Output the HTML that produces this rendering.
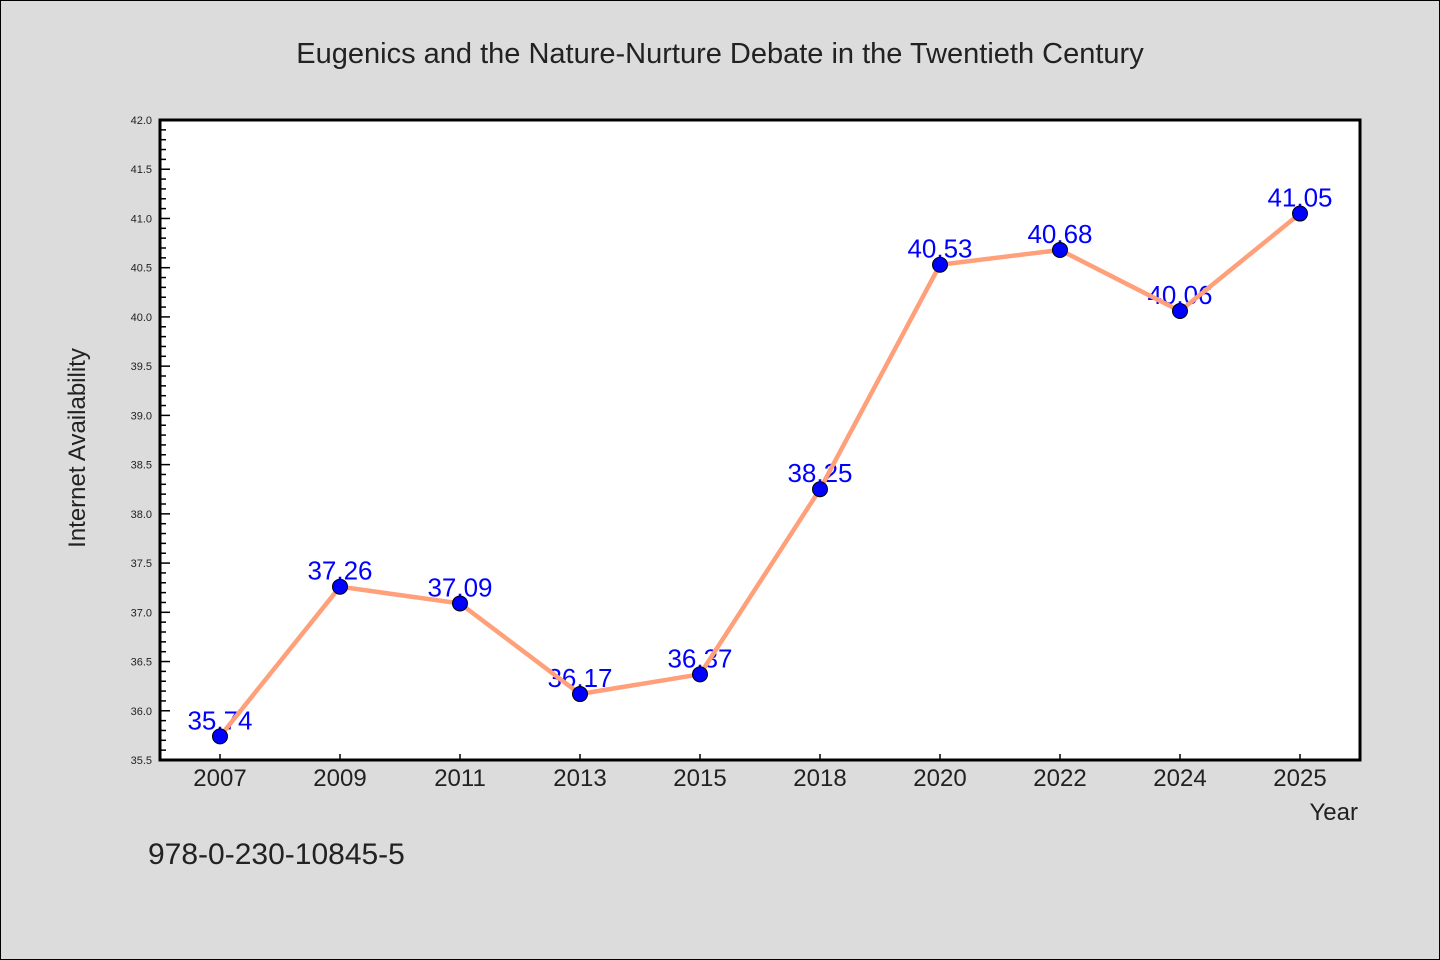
<!DOCTYPE html>
<html><head><meta charset="utf-8"><style>
body{margin:0;background:#dcdcdc;}
svg{display:block;font-family:"WenQuanYi Zen Hei","Liberation Sans",sans-serif;}
</style></head><body>
<svg id="c" width="1440" height="960">
<rect x="0.5" y="0.5" width="1439" height="959" fill="#dcdcdc" stroke="#000"/>
<text x="720" y="63" text-anchor="middle" font-size="29" fill="#222">Eugenics and the Nature-Nurture Debate in the Twentieth Century</text>
<rect x="160" y="120" width="1200" height="640" fill="#fff"/>
<g id="ticks"></g>
<g id="series"></g>
<path d="M160,120 H1360 V760 H160 Z" fill="none" stroke="#000" stroke-width="3"/>
<text transform="translate(85,448) rotate(-90)" text-anchor="middle" font-size="24" fill="#222">Internet Availability</text>
<text x="1358" y="820" text-anchor="end" font-size="24" fill="#222">Year</text>
<text x="148" y="864" font-size="30" fill="#222">978-0-230-10845-5</text>
</svg>
<script>
const categories=["2007","2009","2011","2013","2015","2018","2020","2022","2024","2025"];
const values=[35.74,37.26,37.09,36.17,36.37,38.25,40.53,40.68,40.06,41.05];
const valueLabels=["35.74","37.26","37.09","36.17","36.37","38.25","40.53","40.68","40.06","41.05"];
const yTickLabels=["35.5","36.0","36.5","37.0","37.5","38.0","38.5","39.0","39.5","40.0","40.5","41.0","41.5","42.0"];
const yMin=35.5,yMax=42.0;
const X0=160,X1=1360,Y0=760,Y1=120;
const NS="http://www.w3.org/2000/svg";
function y(v){return Y0-(v-yMin)/(yMax-yMin)*(Y0-Y1);}
function x(i){return X0+(i+0.5)*(X1-X0)/categories.length;}
function mk(tag,attrs,parent,text){const e=document.createElementNS(NS,tag);for(const k in attrs)e.setAttribute(k,attrs[k]);if(text!==undefined)e.textContent=text;parent.appendChild(e);return e;}
const tg=document.getElementById('ticks');
for(let k=0;k<=Math.round((yMax-yMin)*10);k++){
  const v=yMin+k*0.1,yy=y(v),major=k%5===0;
  const t=mk('line',{x1:X0,x2:X0+(major?10:6),y1:yy,y2:yy,stroke:'#000','stroke-width':1.5},tg);
  
  
}
yTickLabels.forEach(s=>{
  const t=mk('text',{x:X0-8,y:y(parseFloat(s))+4,'text-anchor':'end','font-size':11,fill:'#222'},tg,s);
  
  
});
categories.forEach((c,i)=>{
  const t=mk('line',{x1:x(i),x2:x(i),y1:Y0,y2:Y0-6,stroke:'#000','stroke-width':1.5},tg);
  
  
  const l=mk('text',{x:x(i),y:Y0+26,'text-anchor':'middle','font-size':24,fill:'#222'},tg,c);
  
  
});
const sg=document.getElementById('series');
valueLabels.forEach((s,i)=>{
  const t=mk('text',{x:x(i),y:y(values[i])-7,'text-anchor':'middle','font-size':26,fill:'#0000ff'},sg,s);
  
  
});
const line=mk('polyline',{points:values.map((v,i)=>x(i)+','+y(v)).join(' '),fill:'none',stroke:'#ffa07a','stroke-width':4.5,'stroke-linejoin':'round'},sg);


values.forEach((v,i)=>{
  const p=mk('circle',{cx:x(i),cy:y(v),r:7.5,fill:'#0000ff',stroke:'#000','stroke-width':1},sg);
  
  
});
</script>
</body></html>
